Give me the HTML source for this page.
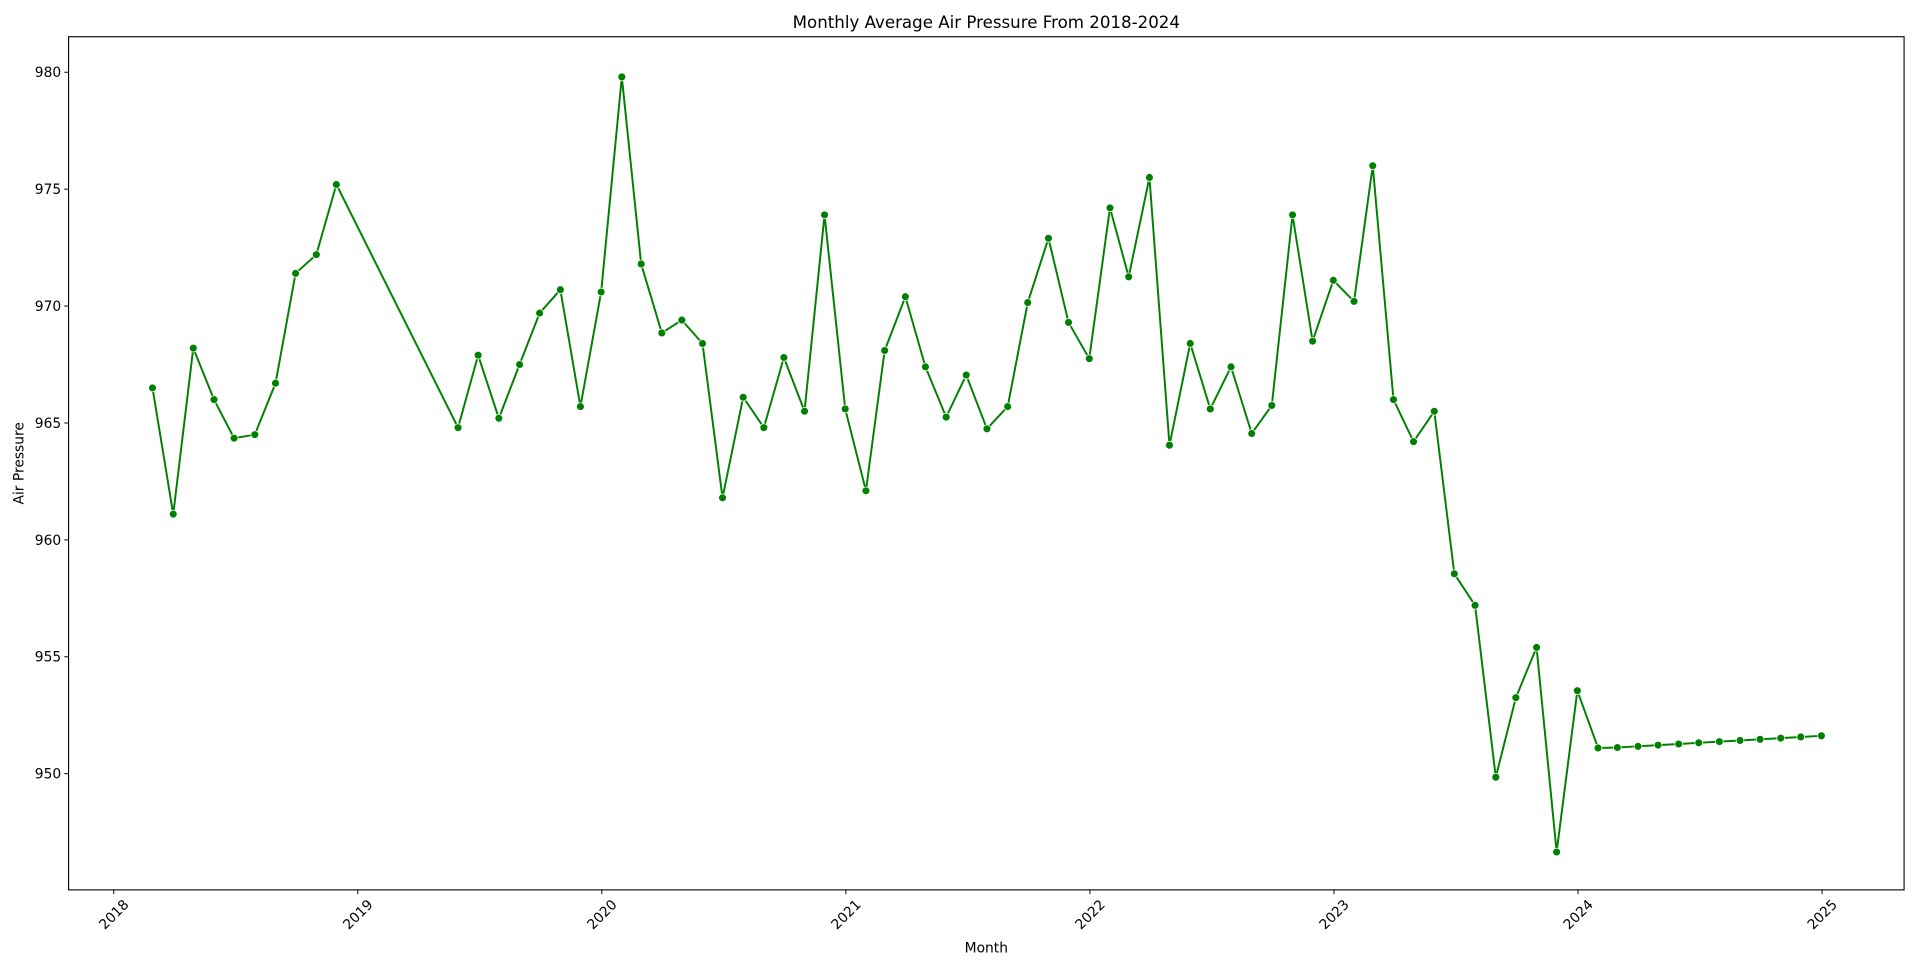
<!DOCTYPE html>
<html><head><meta charset="utf-8"><style>
html,body{margin:0;padding:0;background:#fff;}
svg{display:block;font-family:"DejaVu Sans","Liberation Sans",sans-serif;}
</style></head><body>
<svg id="chart" width="1920" height="967" viewBox="0 0 1568 790" preserveAspectRatio="none" xmlns="http://www.w3.org/2000/svg">
<rect x="0" y="0" width="1568" height="790" fill="#fff"/>
<text x="805.5" y="23" font-size="13.6" text-anchor="middle" fill="#000">Monthly Average Air Pressure From 2018-2024</text>
<g id="ticks"></g>
<g id="series"></g>
<rect x="56" y="30" width="1499" height="697" fill="none" stroke="#000" stroke-width="0.9"/>
<text x="805.5" y="778" font-size="11.3" text-anchor="middle">Month</text>
<text x="19" y="378.5" font-size="11.3" text-anchor="middle" transform="rotate(-90 19 378.5)">Air Pressure</text>
</svg>
<script>
const dates = ["2018-02-28","2018-03-31","2018-04-30","2018-05-31","2018-06-30","2018-07-31","2018-08-31","2018-09-30","2018-10-31","2018-11-30",
"2019-05-31","2019-06-30","2019-07-31","2019-08-31","2019-09-30","2019-10-31","2019-11-30","2019-12-31",
"2020-01-31","2020-02-29","2020-03-31","2020-04-30","2020-05-31","2020-06-30","2020-07-31","2020-08-31","2020-09-30","2020-10-31","2020-11-30","2020-12-31",
"2021-01-31","2021-02-28","2021-03-31","2021-04-30","2021-05-31","2021-06-30","2021-07-31","2021-08-31","2021-09-30","2021-10-31","2021-11-30","2021-12-31",
"2022-01-31","2022-02-28","2022-03-31","2022-04-30","2022-05-31","2022-06-30","2022-07-31","2022-08-31","2022-09-30","2022-10-31","2022-11-30","2022-12-31",
"2023-01-31","2023-02-28","2023-03-31","2023-04-30","2023-05-31","2023-06-30","2023-07-31","2023-08-31","2023-09-30","2023-10-31","2023-11-30","2023-12-31",
"2024-01-31","2024-02-29","2024-03-31","2024-04-30","2024-05-31","2024-06-30","2024-07-31","2024-08-31","2024-09-30","2024-10-31","2024-11-30","2024-12-31"];
const pressure = [966.5,961.1,968.2,966.0,964.35,964.5,966.7,971.4,972.2,975.2,
964.8,967.9,965.2,967.5,969.7,970.7,965.7,970.6,
979.8,971.8,968.85,969.4,968.4,961.8,966.1,964.8,967.8,965.5,973.9,965.6,
962.1,968.1,970.4,967.4,965.25,967.05,964.75,965.7,970.15,972.9,969.3,967.75,
974.2,971.25,975.5,964.05,968.4,965.6,967.4,964.55,965.75,973.9,968.5,971.1,
970.2,976.0,966.0,964.2,965.5,958.55,957.2,949.85,953.25,955.4,946.65,953.55,
951.1,951.12,951.17,951.22,951.27,951.32,951.37,951.42,951.47,951.52,951.57,951.62];
const yTicks = [950,955,960,965,970,975,980];
const xTicks = [2018,2019,2020,2021,2022,2023,2024,2025];

const NS="http://www.w3.org/2000/svg";
const L=56,R=1555,T=30,B=727;
const yMin=945.03,yMax=981.52, xMin=2017.815, xMax=2025.336;
function sx(v){return L+(v-xMin)/(xMax-xMin)*(R-L);}
function sy(v){return B-(v-yMin)/(yMax-yMin)*(B-T);}
function dateToYear(s){const [y,m,d]=s.split('-').map(Number);const t=Date.UTC(y,m-1,d),s0=Date.UTC(y,0,1),s1=Date.UTC(y+1,0,1);return y+(t-s0)/(s1-s0);}
function mk(tag,attrs){const e=document.createElementNS(NS,tag);for(const k in attrs)e.setAttribute(k,attrs[k]);return e;}
const tg=document.getElementById('ticks');
yTicks.forEach(v=>{
  const y=sy(v);
  const ln=mk('line',{x1:L-3.5,x2:L,y1:y,y2:y,stroke:'#000','stroke-width':0.8});
  
  
  tg.appendChild(ln);
  const t=mk('text',{x:L-6,y:y+4,'font-size':11.3,'text-anchor':'end'});
  
  
  t.textContent=v;tg.appendChild(t);
});
xTicks.forEach(v=>{
  const x=sx(v);
  const ln=mk('line',{x1:x,x2:x,y1:B,y2:B+3.5,stroke:'#000','stroke-width':0.8});
  
  
  tg.appendChild(ln);
  const cx=x,cy=B+20;
  const t=mk('text',{x:cx,y:cy+4,'font-size':11.3,'text-anchor':'middle',transform:`rotate(-45 ${cx} ${cy})`});
  
  
  t.textContent=v;tg.appendChild(t);
});
const sg=document.getElementById('series');
const pts=dates.map((d,i)=>[sx(dateToYear(d)),sy(pressure[i])]);
const pl=mk('polyline',{points:pts.map(p=>p.join(',')).join(' '),fill:'none',stroke:'#008000','stroke-width':1.6,'stroke-linejoin':'round'});


sg.appendChild(pl);
pts.forEach(p=>{
  const c=mk('circle',{cx:p[0],cy:p[1],r:3.2,fill:'#008000',stroke:'#fff','stroke-width':0.6});
  
  
  sg.appendChild(c);
});
</script>
</body></html>
